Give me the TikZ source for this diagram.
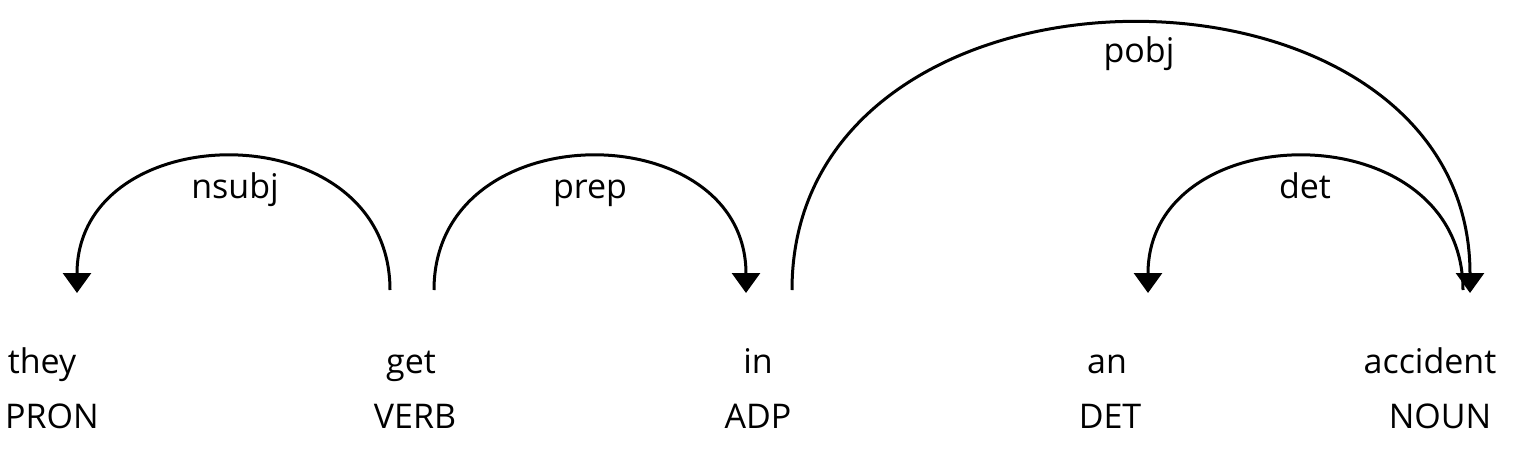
\documentclass[tikz,border=0pt]{standalone}
\usepackage{fontspec}
\setmainfont{Open Sans}
\usetikzlibrary{arrows.meta}
\begin{document}
\begin{tikzpicture}[x=1pt,y=-1pt,
  txt/.style={inner sep=0pt,anchor=base,font=\fontsize{34}{40}\selectfont},
  arc/.style={line width=3pt,-{Triangle[width=28pt,length=20pt]}}]
\useasboundingbox (0,0) rectangle (1524,450);
% words
\node[txt] (w1) at (42,373) {they};
\node[txt] (w2) at (411,373) {get};
\node[txt] (w3) at (758,373) {in};
\node[txt] (w4) at (1107,373) {an};
\node[txt] (w5) at (1430,373) {accident};
% tags
\node[txt] (t1) at (52,428) {PRON};
\node[txt] (t2) at (415,428) {VERB};
\node[txt] (t3) at (758,428) {ADP};
\node[txt] (t4) at (1110,428) {DET};
\node[txt] (t5) at (1440,428) {NOUN};
% arc ends
\coordinate (s1) at (390,290);
\coordinate (e1) at (77,293);
\coordinate (s2) at (434,290);
\coordinate (e2) at (746,293);
\coordinate (s3) at (792,290);
\coordinate (e3) at (1470,293);
\coordinate (s4) at (1463,290);
\coordinate (e4) at (1148,293);
% arcs
\draw[arc] (s1) .. controls +(0,-179) and +(0,-179) .. (e1);
\draw[arc] (s2) .. controls +(0,-179) and +(0,-179) .. (e2);
\draw[arc] (s3) .. controls +(0,-357) and +(0,-357) .. (e3);
\draw[arc] (s4) .. controls +(0,-179) and +(0,-179) .. (e4);
% labels
\node[txt] (l1) at (235,198) {nsubj};
\node[txt] (l2) at (590,198) {prep};
\node[txt] (l3) at (1139,62) {pobj};
\node[txt] (l4) at (1305,198) {det};
\end{tikzpicture}
\end{document}
